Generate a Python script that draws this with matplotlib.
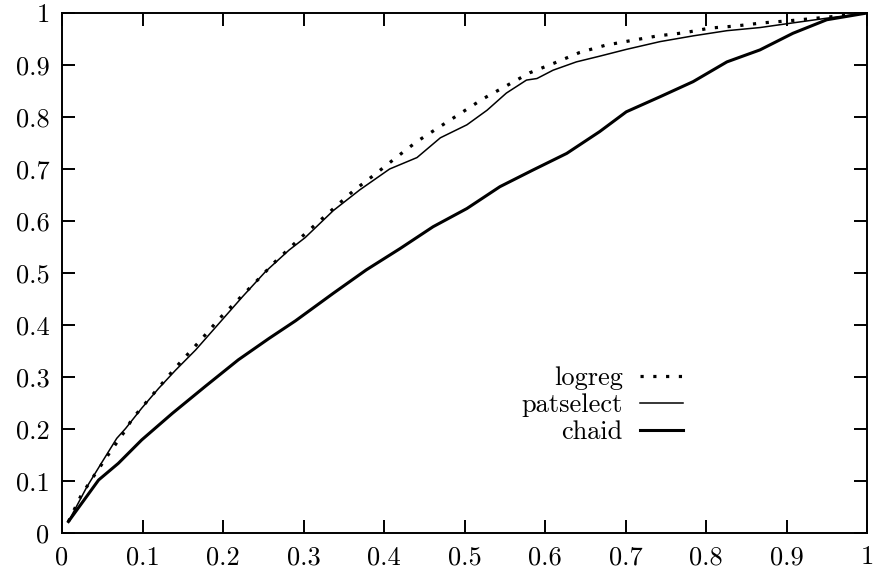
import matplotlib
matplotlib.use("Agg")
import matplotlib.pyplot as plt

plt.rcParams['font.family'] = ['cmr10', 'DejaVu Serif']
plt.rcParams['axes.formatter.use_mathtext'] = True

# curves
logreg_x = [0.008, 0.024, 0.041, 0.059, 0.079, 0.087, 0.141, 0.174, 0.196, 0.219,
            0.242, 0.265, 0.289, 0.301, 0.362, 0.389, 0.415, 0.441, 0.469, 0.497,
            0.523, 0.552, 0.581, 0.612, 0.643, 0.675, 0.707, 0.740, 0.773, 0.805,
            0.837, 0.870, 0.903, 0.937, 0.970, 1.0]
logreg_y = [0.022, 0.073, 0.113, 0.154, 0.198, 0.219, 0.318, 0.374, 0.413, 0.449,
            0.485, 0.522, 0.557, 0.574, 0.658, 0.690, 0.722, 0.753, 0.781, 0.809,
            0.835, 0.860, 0.885, 0.904, 0.924, 0.938, 0.947, 0.956, 0.962, 0.971,
            0.975, 0.981, 0.985, 0.990, 0.995, 1.0]

patselect_x = [0.008, 0.031, 0.050, 0.068, 0.079, 0.099, 0.120, 0.141, 0.166, 0.195,
               0.224, 0.253, 0.282, 0.302, 0.337, 0.370, 0.407, 0.441, 0.470, 0.503,
               0.528, 0.552, 0.577, 0.590, 0.610, 0.639, 0.668, 0.701, 0.743, 0.784,
               0.826, 0.867, 0.908, 0.950, 1.0]
patselect_y = [0.022, 0.089, 0.137, 0.182, 0.201, 0.240, 0.278, 0.313, 0.352, 0.403,
               0.454, 0.503, 0.544, 0.568, 0.620, 0.660, 0.700, 0.722, 0.760, 0.785,
               0.813, 0.846, 0.871, 0.874, 0.890, 0.906, 0.917, 0.930, 0.945, 0.956,
               0.966, 0.972, 0.981, 0.990, 1.0]

chaid_x = [0.008, 0.0455, 0.070, 0.099, 0.137, 0.178, 0.219, 0.257, 0.290, 0.337,
           0.378, 0.420, 0.461, 0.503, 0.544, 0.585, 0.627, 0.668, 0.701, 0.743,
           0.784, 0.826, 0.867, 0.908, 0.950, 1.0]
chaid_y = [0.022, 0.102, 0.134, 0.179, 0.230, 0.282, 0.333, 0.374, 0.408, 0.461,
           0.506, 0.547, 0.589, 0.624, 0.666, 0.698, 0.730, 0.772, 0.810, 0.839,
           0.868, 0.906, 0.929, 0.961, 0.987, 1.0]

ticks = [0, 0.1, 0.2, 0.3, 0.4, 0.5, 0.6, 0.7, 0.8, 0.9, 1]
tick_labels = ['0', '0.1', '0.2', '0.3', '0.4', '0.5', '0.6', '0.7', '0.8', '0.9', '1']

fig = plt.figure(figsize=(8.74, 5.75), dpi=100)
ax = fig.add_axes([62 / 874, 1 - 533 / 575, 805 / 874, 520 / 575])

ax.plot(logreg_x, logreg_y, color='black', lw=2.3, linestyle=(0, (1, 3)),
        label='logreg')
ax.plot(patselect_x, patselect_y, color='black', lw=1.1, label='patselect')
ax.plot(chaid_x, chaid_y, color='black', lw=2.2, label='chaid')

ax.set_xlim(0, 1)
ax.set_ylim(0, 1)
ax.set_xticks(ticks)
ax.set_xticklabels(tick_labels)
ax.set_yticks(ticks)
ax.set_yticklabels(tick_labels)
ax.tick_params(direction='in', length=9.4, width=1.4, top=True, right=True,
               labelsize=19)
ax.tick_params(axis='x', pad=9)
ax.tick_params(axis='y', pad=9)
for sp in ax.spines.values():
    sp.set_linewidth(1.4)

ax.legend(loc='center right', bbox_to_anchor=(0.771, 0.246), frameon=False,
          markerfirst=False, fontsize=19, handlelength=1.63, handletextpad=0.64,
          labelspacing=0.12, borderpad=0, borderaxespad=0)

fig.savefig('out.png', dpi=100)
